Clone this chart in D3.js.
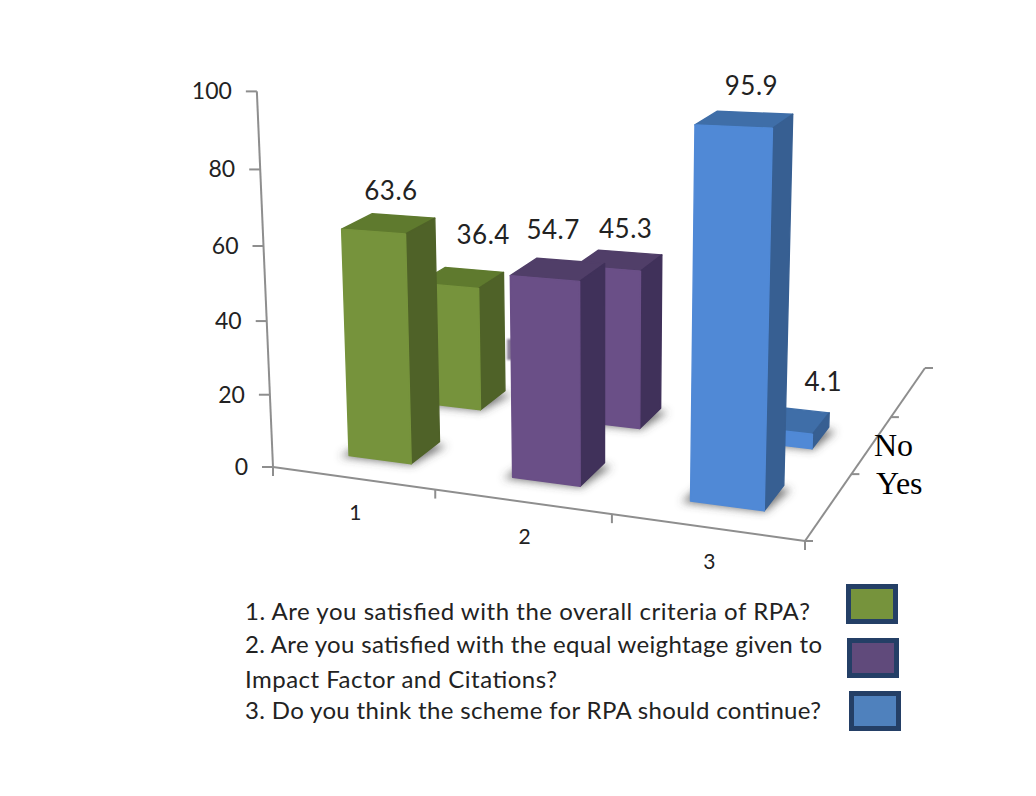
<!DOCTYPE html>
<html>
<head>
<meta charset="utf-8">
<script src="https://d3js.org/d3.v7.min.js"></script>
<style>
html,body{margin:0;padding:0;background:#fff}
svg{display:block}
text{font-family:Lato,"Open Sans",sans-serif;fill:#222}
</style>
</head>
<body>
<svg id="chart" width="1036" height="796"></svg>
<script>
// Survey results per question
const categories = ["1", "2", "3"];
const seriesNames = ["Yes", "No"];
const yesValues = [63.6, 54.7, 95.9];
const noValues = [36.4, 45.3, 4.1];
const valueTicks = [0, 20, 40, 60, 80, 100];
const questions = [
  "1. Are you satisfied with the overall criteria of RPA?",
  "2. Are you satisfied with the equal weightage given to",
  "Impact Factor and Citations?",
  "3. Do you think the scheme for RPA should continue?"
];
const frontColors = ["#76933c", "#6a4f87", "#5089d6"];
const sideColors = ["#4f6228", "#40315a", "#375f92"];
const topColors = ["#5f7a2e", "#503e68", "#3f6ea8"];
const swatchColors = ["#76933c", "#604a7b", "#4f81bd"];

// Perspective camera: floor corners plus the vanishing point of the vertical edges
const floor = {A: [273, 467], B: [805, 541], C: [925, 368], D: [480, 325]};
const verticalVanish = [601, 8100];
const verticalRate = -0.000469;

const homography = (() => {
  const [x0, y0] = floor.A, [x1, y1] = floor.B, [x2, y2] = floor.C, [x3, y3] = floor.D;
  const dx1 = x1 - x2, dx2 = x3 - x2, sx = x0 - x1 + x2 - x3;
  const dy1 = y1 - y2, dy2 = y3 - y2, sy = y0 - y1 + y2 - y3;
  const den = dx1 * dy2 - dy1 * dx2;
  const g = (sx * dy2 - dx2 * sy) / den;
  const h = (dx1 * sy - sx * dy1) / den;
  return {a: x1 - x0 + g * x1, b: x3 - x0 + h * x3, c: x0,
          d: y1 - y0 + g * y1, e: y3 - y0 + h * y3, f: y0, g, h};
})();

const catScale = d3.scaleLinear().domain([0, categories.length]).range([0, 1]);
const depthScale = d3.scaleLinear().domain([0, 3]).range([0, 1]);
// Bars sit slightly inside the axis box, so their height runs a little short of the wall scale
const barHeight = d3.scaleLinear().domain([0, 100]).range([0, 97.5]);

function project(cat, depth, value) {
  const u = catScale(cat), v = depthScale(depth), m = homography;
  const k = value * verticalRate;
  const X = m.a * u + m.b * v + m.c + k * verticalVanish[0];
  const Y = m.d * u + m.e * v + m.f + k * verticalVanish[1];
  const Z = m.g * u + m.h * v + 1 + k;
  return [X / Z, Y / Z];
}

const svg = d3.select("#chart");
const defs = svg.append("defs");
defs.append("filter").attr("id", "floorShadow")
  .attr("x", "-40%").attr("y", "-40%").attr("width", "180%").attr("height", "180%")
  .append("feGaussianBlur").attr("stdDeviation", 4);
defs.append("filter").attr("id", "softEdge")
  .attr("x", "-60%").attr("y", "-30%").attr("width", "220%").attr("height", "160%")
  .append("feGaussianBlur").attr("stdDeviation", 1.2);

const axisColor = "#8e8e8e";
const polyLine = d3.line();
const axes = svg.append("g").attr("fill", "none").attr("stroke", axisColor).attr("stroke-width", 2);

// Value axis with its ticks and labels
axes.append("path").attr("d", polyLine([project(0, 0, 0), project(0, 0, 100)]));
valueTicks.forEach(t => {
  const p = project(0, 0, t);
  axes.append("path").attr("d", polyLine([[p[0] - 11, p[1]], p]));
  svg.append("text").attr("x", p[0] - 25).attr("y", p[1] + 8)
    .attr("text-anchor", "end").attr("font-size", 23).text(t);
});

// Category axis
axes.append("path").attr("d", polyLine([project(0, 0, 0), project(3, 0, 0)]));
d3.range(0, 4).forEach(c => {
  const p = project(c, 0, 0);
  axes.append("path").attr("d", polyLine([p, [p[0], p[1] + 9]]));
});
categories.forEach((c, i) => {
  const p = project(i + 0.5, 0, 0);
  svg.append("text").attr("x", p[0] + 3).attr("y", p[1] + 42)
    .attr("text-anchor", "middle").attr("font-size", 21).text(c);
});

// Depth axis along the right side of the floor
axes.append("path").attr("d", polyLine([project(3, 0, 0), project(3, 3, 0)]));
d3.range(0, 4).forEach(s => {
  const p = project(3, s, 0);
  axes.append("path").attr("d", polyLine([p, [p[0] + 8, p[1]]]));
});

// Bars: back row first, left to right, so nearer boxes overlap correctly
const rows = [
  {depth: 1, values: noValues, nudge: [[25, -43], [10, -32], [40, -38]]},
  {depth: 0, values: yesValues, nudge: [[6, -33], [-1, -40], [11, -34]]}
];
const inset = 0.32, outset = 0.71;
const shadows = svg.append("g").attr("filter", "url(#floorShadow)");

// Faint grey trace left in the gap between the first two bar groups
svg.append("rect").attr("x", 507).attr("y", 339).attr("width", 8).attr("height", 21)
  .attr("fill", "#8d8399").attr("filter", "url(#softEdge)");

const bars = svg.append("g");
const labels = [];

rows.forEach(row => {
  row.values.forEach((val, i) => {
    const h = barHeight(val);
    const c0 = i + inset, c1 = i + outset, d0 = row.depth + inset, d1 = row.depth + outset;
    const fl = project(c0, d0, 0), fr = project(c1, d0, 0), br = project(c1, d1, 0), bl = project(c0, d1, 0);
    const tfl = project(c0, d0, h), tfr = project(c1, d0, h), tbr = project(c1, d1, h), tbl = project(c0, d1, h);

    shadows.append("path")
      .attr("d", polyLine([[fl[0] - 9, fl[1] + 1], [fr[0] + 1, fr[1] + 1], [br[0] + 7, br[1] + 4], bl]) + "Z")
      .attr("fill", "#4a4a4a").attr("fill-opacity", 0.75);

    const faces = [
      {pts: [tfl, tfr, tbr, tbl], color: topColors[i]},
      {pts: [fr, br, tbr, tfr], color: sideColors[i]},
      {pts: [fl, fr, tfr, tfl], color: frontColors[i]}
    ];
    faces.forEach(f => {
      bars.append("path").attr("d", polyLine(f.pts) + "Z")
        .attr("fill", f.color).attr("stroke", f.color)
        .attr("stroke-width", 1.4).attr("stroke-linejoin", "round");
    });

    const centre = project(i + 0.5, row.depth + 0.5, h);
    labels.push({x: centre[0] + row.nudge[i][0], y: centre[1] + row.nudge[i][1], val});
  });
});

svg.append("g").selectAll("text").data(labels).join("text")
  .attr("x", d => d.x).attr("y", d => d.y).attr("dy", "0.36em")
  .attr("text-anchor", "middle").attr("font-size", 26).attr("letter-spacing", 0.5)
  .text(d => d.val.toFixed(1));

// Series names set beside the depth axis
const serif = "'Liberation Serif','Times New Roman',serif";
svg.append("text").attr("x", 874).attr("y", 456).attr("font-size", 32)
  .style("font-family", serif).style("fill", "#000").text(seriesNames[1]);
svg.append("text").attr("x", 876).attr("y", 494).attr("font-size", 32)
  .style("font-family", serif).style("fill", "#000").text(seriesNames[0]);

// Question key with colour swatches
const lineBase = [620, 653, 688, 719];
const lineWidth = [565, 577, 312, 576];
svg.append("g").selectAll("text").data(questions).join("text")
  .attr("x", 245).attr("y", (d, i) => lineBase[i])
  .attr("font-size", 24)
  .attr("textLength", (d, i) => lineWidth[i]).attr("lengthAdjust", "spacing")
  .text(d => d);

const swatchX = [848.5, 849.5, 851.5], swatchY = [586.5, 640.5, 693.5];
svg.append("g").selectAll("rect").data(swatchColors).join("rect")
  .attr("x", (d, i) => swatchX[i]).attr("y", (d, i) => swatchY[i])
  .attr("width", 47).attr("height", 35)
  .attr("fill", d => d).attr("stroke", "#243f66").attr("stroke-width", 5);
</script>
</body>
</html>
